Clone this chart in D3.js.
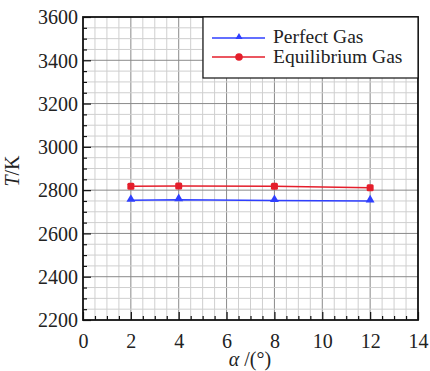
<!DOCTYPE html>
<html>
<head>
<meta charset="utf-8">
<style>
  body { margin: 0; background: #fff; }
  text { font-family: "Liberation Serif", "DejaVu Serif", serif; fill: #222; }
</style>
</head>
<body>
<svg width="430" height="371"></svg>
<script src="https://d3js.org/d3.v7.min.js"></script>
<script>
// angle of attack (deg)
var alpha = [2, 4, 8, 12];
var perfectGas = [2753, 2756, 2752, 2750];
var equilibriumGas = [2818, 2819, 2818, 2811];
var xTicks = [0, 2, 4, 6, 8, 10, 12, 14];
var yTicks = [2200, 2400, 2600, 2800, 3000, 3200, 3400, 3600];

var svg = d3.select("svg"),
    pL = 83, pT = 17, pR = 418, pB = 320;

var x = d3.scaleLinear().domain([0, 14]).range([pL, pR]);
var y = d3.scaleLinear().domain([2200, 3600]).range([pB, pT]);

// grid: minor every 0.5 / 50, major every 2 / 200
svg.append("g").selectAll("line")
  .data(d3.range(0.5, 14, 0.5))
  .enter().append("line")
    .attr("x1", d => x(d)).attr("x2", d => x(d))
    .attr("y1", pT).attr("y2", pB)
    .attr("stroke", d => d % 2 === 0 ? "#8a8a8a" : "#cfcfcf")
    .attr("stroke-width", 1);
svg.append("g").selectAll("line")
  .data(d3.range(2250, 3600, 50))
  .enter().append("line")
    .attr("x1", pL).attr("x2", pR)
    .attr("y1", d => y(d)).attr("y2", d => y(d))
    .attr("stroke", d => d % 200 === 0 ? "#8a8a8a" : "#cfcfcf")
    .attr("stroke-width", 1);

// inward ticks
var xAxis = d3.axisBottom(x).tickValues(xTicks).tickSize(-8).tickPadding(14).tickFormat(d3.format("d"));
var gx = svg.append("g").attr("transform", "translate(0," + pB + ")").call(xAxis);
var xMinor = d3.axisBottom(x).tickValues(d3.range(0.5, 14, 0.5).filter(d => d % 2 !== 0)).tickSize(-4).tickFormat("");
svg.append("g").attr("transform", "translate(0," + pB + ")").call(xMinor).select(".domain").remove();

var yAxis = d3.axisLeft(y).tickValues(yTicks).tickSize(-8).tickPadding(5).tickFormat(d3.format("d"));
var gy = svg.append("g").attr("transform", "translate(" + pL + ",0)").call(yAxis);
var yMinor = d3.axisLeft(y).tickValues(d3.range(2250, 3600, 50).filter(d => d % 200 !== 0)).tickSize(-4).tickFormat("");
svg.append("g").attr("transform", "translate(" + pL + ",0)").call(yMinor).select(".domain").remove();

[gx, gy].forEach(function(g) {
  g.attr("font-family", null);
  g.select(".domain").remove();
  g.selectAll(".tick text").attr("font-size", 20).attr("fill", "#222")
    .style("font-family", "'Liberation Serif', serif");
});
gy.selectAll(".tick text").attr("dy", "0.34em");
svg.selectAll(".tick line").attr("stroke", "#111").attr("stroke-width", 1.2);

// frame
svg.append("rect")
  .attr("x", pL).attr("y", pT)
  .attr("width", pR - pL).attr("height", pB - pT)
  .attr("fill", "none").attr("stroke", "#111").attr("stroke-width", 1.8);

// series
var line = d3.line().x((d, i) => x(alpha[i])).y(d => y(d));
var blue = "#2f3fff", red = "#e41e2b";

svg.append("path").datum(perfectGas)
  .attr("fill", "none").attr("stroke", blue).attr("stroke-width", 1.5).attr("d", line);
svg.append("path").datum(equilibriumGas)
  .attr("fill", "none").attr("stroke", red).attr("stroke-width", 1.5).attr("d", line);

var tri = d3.symbol().type(d3.symbolTriangle).size(34);
svg.append("g").selectAll("path")
  .data(perfectGas).enter().append("path")
    .attr("d", tri)
    .attr("transform", (d, i) => "translate(" + x(alpha[i]) + "," + (y(d) - 1) + ")")
    .attr("fill", blue);
svg.append("g").selectAll("rect")
  .data(equilibriumGas).enter().append("rect")
    .attr("x", (d, i) => x(alpha[i]) - 3.5).attr("y", d => y(d) - 3.5)
    .attr("width", 7).attr("height", 7).attr("rx", 1.5)
    .attr("fill", red);

// legend
var lg = svg.append("g");
lg.append("rect").attr("x", 203).attr("y", pT).attr("width", pR - 203).attr("height", 61)
  .attr("fill", "#fff").attr("stroke", "#111").attr("stroke-width", 1.2);
lg.append("line").attr("x1", 212).attr("x2", 265).attr("y1", 38).attr("y2", 38)
  .attr("stroke", blue).attr("stroke-width", 1.5);
lg.append("path").attr("d", d3.symbol().type(d3.symbolTriangle).size(22))
  .attr("transform", "translate(239,37)").attr("fill", blue);
lg.append("line").attr("x1", 212).attr("x2", 265).attr("y1", 57).attr("y2", 57)
  .attr("stroke", red).attr("stroke-width", 1.5);
lg.append("circle").attr("cx", 239).attr("cy", 57).attr("r", 3.8).attr("fill", red);
lg.append("text").attr("x", 273).attr("y", 43).attr("font-size", 19.5).text("Perfect Gas");
lg.append("text").attr("x", 273).attr("y", 63).attr("font-size", 19.5).text("Equilibrium Gas");

// axis titles
svg.append("text")
  .attr("transform", "translate(19,171) rotate(-90)")
  .attr("text-anchor", "middle").attr("font-size", 20)
  .html('<tspan font-style="italic">T</tspan>/K');
svg.append("text")
  .attr("x", 250).attr("y", 366)
  .attr("text-anchor", "middle").attr("font-size", 20)
  .html('<tspan font-style="italic">α</tspan> /(°)');
</script>
</body>
</html>
